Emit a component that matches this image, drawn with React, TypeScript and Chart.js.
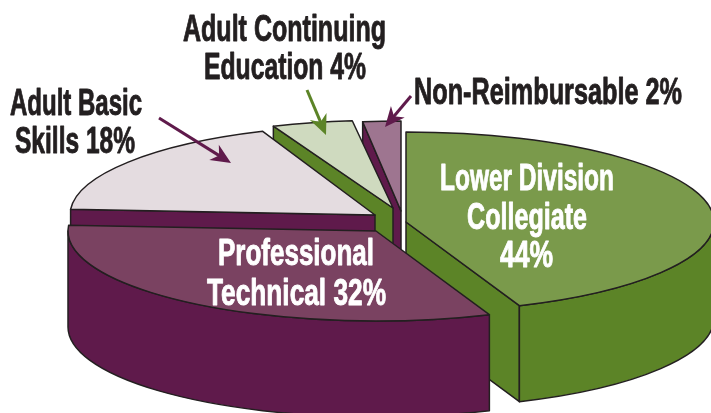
import React, { useEffect, useRef } from "react";
import { Chart, registerables } from "chart.js";

Chart.register(...registerables);

const categories = ["Lower Division Collegiate", "Professional Technical", "Adult Basic Skills", "Adult Continuing Education", "Non-Reimbursable"];
const shares = [44, 32, 18, 4, 2];
const topColors = ["#7a9a4b", "#7a4261", "#e4dce0", "#cfdabf", "#9e7590"];
const wallColors = ["#5c8427", "#5f1a4b", "#5f1a4b", "#5c8427", "#5f1a4b"];
const apexX = [406, 376, 375, 393, 401];
const apexY = [222, 231, 215, 208, 211];
const radiusX = [308, 308, 305, 325, 306];
const radiusY = [90, 90, 90, 88, 90];
const paintOrder = [4, 3, 2, 0, 1];

const DEPTH = 96;
const OUTLINE = "#231f20";
const FONT = '"Liberation Sans Narrow", "Liberation Sans", sans-serif';

const textLines = [
  { t: "Adult Continuing", l: 183, r: 386, y: 41, c: OUTLINE },
  { t: "Education 4%", l: 204, r: 366, y: 79, c: OUTLINE },
  { t: "Non-Reimbursable 2%", l: 414, r: 682, y: 104, c: OUTLINE },
  { t: "Adult Basic", l: 10, r: 142, y: 115, c: OUTLINE },
  { t: "Skills 18%", l: 15, r: 135, y: 153, c: OUTLINE },
  { t: "Lower Division", l: 440, r: 614, y: 190, c: "#ffffff" },
  { t: "Collegiate", l: 467, r: 587, y: 229, c: "#ffffff" },
  { t: "44%", l: 500, r: 553, y: 267, c: "#ffffff" },
  { t: "Professional", l: 218, r: 374, y: 265, c: "#ffffff" },
  { t: "Technical 32%", l: 207, r: 386, y: 305, c: "#ffffff" },
];

const arrows = [
  { x1: 159, y1: 118, x2: 231, y2: 163, c: "#5f1a4b" },
  { x1: 307, y1: 90, x2: 326, y2: 135, c: "#5c8427" },
  { x1: 411, y1: 96, x2: 385, y2: 127, c: "#5f1a4b" },
];

const piePlugin = {
  id: "pie3d",
  beforeDatasetsDraw(chart: any) {
    const ctx = chart.ctx;
    const arcs = chart.getDatasetMeta(0).data;
    for (const i of paintOrder) {
      const arc = arcs[i];
      const ax = apexX[i];
      const ay = apexY[i];
      const RX = radiusX[i];
      const RY = radiusY[i];
      const a1 = arc.startAngle;
      const a2 = arc.endAngle;
      const R = arc.outerRadius;
      ctx.save();
      ctx.fillStyle = wallColors[i];
      ctx.strokeStyle = OUTLINE;
      ctx.lineWidth = 1.5;
      ctx.lineJoin = "round";
      const face = (a: number) => {
        const px = ax + RX * Math.cos(a);
        const py = ay + RY * Math.sin(a);
        ctx.beginPath();
        ctx.moveTo(ax, ay);
        ctx.lineTo(px, py);
        ctx.lineTo(px, py + DEPTH);
        ctx.lineTo(ax, ay + DEPTH);
        ctx.closePath();
        ctx.fill();
        ctx.stroke();
      };
      if (-Math.cos(a1) > 1e-6) face(a1);
      if (Math.cos(a2) > 1e-6) face(a2);
      const w1 = Math.max(a1, 0);
      const w2 = Math.min(a2, Math.PI);
      if (w2 > w1) {
        ctx.beginPath();
        ctx.ellipse(ax, ay, RX, RY, 0, w1, w2);
        ctx.ellipse(ax, ay + DEPTH, RX, RY, 0, w2, w1, true);
        ctx.closePath();
        ctx.fill();
        ctx.stroke();
      }
      ctx.restore();

      ctx.save();
      ctx.translate(ax, ay);
      ctx.scale(RX / R, RY / R);
      ctx.translate(-arc.x, -arc.y);
      arc.draw(ctx);
      ctx.restore();

      ctx.save();
      ctx.strokeStyle = OUTLINE;
      ctx.lineWidth = 1.5;
      ctx.lineJoin = "round";
      ctx.beginPath();
      ctx.moveTo(ax, ay);
      ctx.ellipse(ax, ay, RX, RY, 0, a1, a2);
      ctx.closePath();
      ctx.stroke();
      ctx.restore();
    }
    return false;
  },
  afterDraw(chart: any) {
    const ctx = chart.ctx;
    ctx.save();
    for (const a of arrows) {
      const ang = Math.atan2(a.y2 - a.y1, a.x2 - a.x1);
      ctx.save();
      ctx.translate(a.x2, a.y2);
      ctx.rotate(ang);
      ctx.strokeStyle = a.c;
      ctx.fillStyle = a.c;
      ctx.lineWidth = 3;
      ctx.beginPath();
      ctx.moveTo(-Math.hypot(a.x2 - a.x1, a.y2 - a.y1), 0);
      ctx.lineTo(-12, 0);
      ctx.stroke();
      ctx.beginPath();
      ctx.moveTo(0, 0);
      ctx.lineTo(-20, -9);
      ctx.lineTo(-14, 0);
      ctx.lineTo(-20, 9);
      ctx.closePath();
      ctx.fill();
      ctx.restore();
    }
    ctx.textBaseline = "alphabetic";
    ctx.textAlign = "left";
    ctx.lineJoin = "round";
    ctx.font = `bold 36px ${FONT}`;
    for (const l of textLines) {
      ctx.fillStyle = l.c;
      ctx.strokeStyle = l.c;
      ctx.lineWidth = 0.9;
      const w = ctx.measureText(l.t).width;
      ctx.save();
      ctx.translate(l.l, l.y);
      ctx.scale((l.r - l.l) / w, 1);
      ctx.fillText(l.t, 0, 0);
      ctx.strokeText(l.t, 0, 0);
      ctx.restore();
    }
    ctx.restore();
  },
};

export default function App() {
  const ref = useRef<HTMLCanvasElement>(null);
  useEffect(() => {
    const chart = new Chart(ref.current as HTMLCanvasElement, {
      type: "pie",
      data: {
        labels: categories,
        datasets: [{ data: shares, backgroundColor: topColors, borderWidth: 0 }],
      },
      options: {
        animation: false,
        responsive: false,
        layout: { padding: 0 },
        plugins: { legend: { display: false }, tooltip: { enabled: false } },
      },
      plugins: [piePlugin],
    } as any);
    return () => chart.destroy();
  }, []);
  return (
    <div style={{ position: "absolute", left: 0, top: 0, width: 711, height: 413, background: "#fff" }}>
      <canvas ref={ref} width={711} height={413} style={{ display: "block" }} />
    </div>
  );
}
